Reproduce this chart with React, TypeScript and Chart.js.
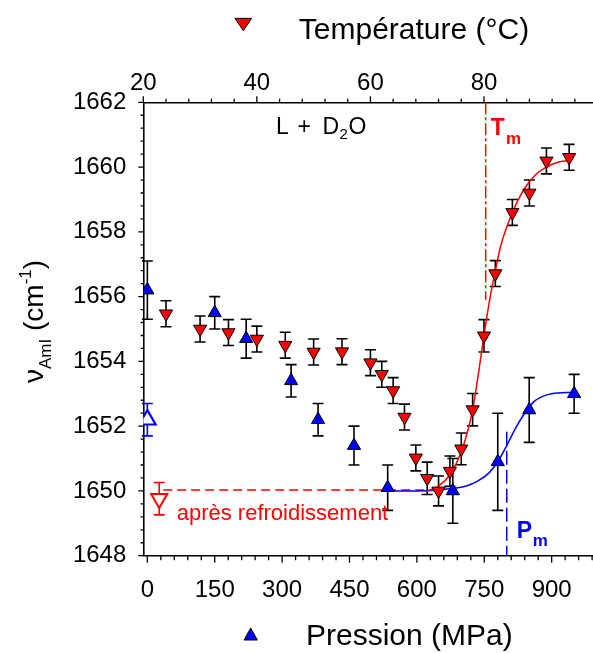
import React, { useEffect, useRef } from 'react';
import { Chart, registerables } from 'chart.js';

Chart.register(...registerables);

const FONT = '"Liberation Sans", Arial, Helvetica, sans-serif';
const RED = '#ff0000';
const BLUE = '#0000ff';

// ---- Axis ticks ----
const PRESSURE_TICKS = [0, 150, 300, 450, 600, 750, 900];
const TEMP_TICKS = [20, 40, 60, 80];
const NU_TICKS = [1648, 1650, 1652, 1654, 1656, 1658, 1660, 1662];

// ---- Pressure series (blue, up triangles) ----
const PRESSURE_MPA = [0, 150, 220, 320, 380, 460, 535, 680, 780, 850, 950];
const PRESSURE_NU = [1656.2, 1655.5, 1654.7, 1653.4, 1652.2, 1651.4, 1650.1, 1650.0, 1650.9, 1652.5, 1653.0];
const PRESSURE_ERR = [0.9, 0.5, 0.6, 0.5, 0.5, 0.6, 0.7, 1.0, 1.5, 1.0, 0.6];

// after decompression (open blue)
const PRESSURE_AFTER_MPA = [0];
const PRESSURE_AFTER_NU = [1652.2];
const PRESSURE_AFTER_ERR = [0.5];

// ---- Temperature series (red, down triangles) ----
const TEMP_C = [24, 30, 35, 40, 45, 50, 55, 60, 62, 64, 66, 68, 70, 72, 74, 76, 78, 80, 82, 85, 88, 91, 95];
const TEMP_NU = [1655.47, 1655.0, 1654.89, 1654.69, 1654.5, 1654.29, 1654.3, 1653.96, 1653.6, 1653.1, 1652.28, 1651.02, 1650.39, 1650.0, 1650.61, 1651.3, 1652.51, 1654.79, 1656.71, 1658.6, 1659.2, 1660.19, 1660.3];
const TEMP_ERR = [0.4, 0.4, 0.4, 0.4, 0.4, 0.4, 0.4, 0.4, 0.4, 0.4, 0.4, 0.4, 0.5, 0.46, 0.47, 0.49, 0.5, 0.5, 0.4, 0.4, 0.4, 0.4, 0.4];

// after cooling (open red)
const COOLED_C = [22.8];
const COOLED_NU = [1649.76];
const COOLED_ERR = [0.5];

// ---- Fit curves ----
const TFIT_C = [70, 72, 74, 76, 78, 79, 80, 81, 82, 83, 85, 87, 89, 91, 93, 95];
const TFIT_NU = [1650.0, 1650.15, 1650.5, 1651.2, 1652.5, 1653.6, 1654.8, 1655.9, 1656.8, 1657.6, 1658.6, 1659.3, 1659.75, 1660.0, 1660.15, 1660.2];
const PFIT_MPA = [535, 600, 650, 680, 710, 735, 760, 780, 800, 820, 840, 860, 880, 900, 950];
const PFIT_NU = [1650.0, 1650.0, 1650.03, 1650.08, 1650.15, 1650.3, 1650.55, 1650.9, 1651.4, 1651.95, 1652.4, 1652.75, 1652.92, 1653.0, 1653.05];

// reference lines
const COOLED_LINE_C = [23.5, 70];
const COOLED_LINE_NU = [1650.03, 1650.03];
const TM_C = [80.3, 80.3];
const TM_NU = [1662, 1655.9];
const PM_MPA = [800, 800];
const PM_NU = [1651.83, 1648];

const pts = (xs: number[], ys: number[]) => xs.map((x, i) => ({ x, y: ys[i] }));

function drawRich(ctx: CanvasRenderingContext2D, x: number, y: number, parts: any[], color: string) {
  let cx = x;
  ctx.fillStyle = color;
  ctx.textAlign = 'left';
  ctx.textBaseline = 'alphabetic';
  for (const p of parts) {
    ctx.font = `${p.bold ? 'bold ' : ''}${p.size}px ${FONT}`;
    const px = p.x !== undefined ? p.x : cx;
    ctx.fillText(p.t, px, y + (p.dy || 0));
    cx = px + ctx.measureText(p.t).width;
  }
}

function triangle(ctx: CanvasRenderingContext2D, cx: number, cy: number, w: number, h: number, down: boolean, fill: string) {
  ctx.beginPath();
  if (down) {
    ctx.moveTo(cx - w / 2, cy - h / 2);
    ctx.lineTo(cx + w / 2, cy - h / 2);
    ctx.lineTo(cx, cy + h / 2);
  } else {
    ctx.moveTo(cx - w / 2, cy + h / 2);
    ctx.lineTo(cx + w / 2, cy + h / 2);
    ctx.lineTo(cx, cy - h / 2);
  }
  ctx.closePath();
  ctx.fillStyle = fill;
  ctx.fill();
  ctx.strokeStyle = '#000';
  ctx.lineWidth = 1;
  ctx.stroke();
}

const errorBarPlugin = {
  id: 'errorBars',
  beforeDatasetsDraw(chart: any) {
    const ctx = chart.ctx;
    chart.data.datasets.forEach((ds: any, i: number) => {
      if (!ds.errors) return;
      const meta = chart.getDatasetMeta(i);
      const ys = chart.scales.y;
      ctx.save();
      ctx.strokeStyle = ds.errorColor;
      ctx.lineWidth = 1.6;
      meta.data.forEach((el: any, j: number) => {
        const raw = ds.data[j];
        const e = ds.errors[j];
        const top = ys.getPixelForValue(raw.y + e);
        const bot = ys.getPixelForValue(raw.y - e);
        const x = el.x;
        const cw = 5.5;
        ctx.beginPath();
        ctx.moveTo(x, top);
        ctx.lineTo(x, bot);
        ctx.moveTo(x - cw, top);
        ctx.lineTo(x + cw, top);
        ctx.moveTo(x - cw, bot);
        ctx.lineTo(x + cw, bot);
        ctx.stroke();
      });
      ctx.restore();
    });
  },
};

function tickMarks(ctx: CanvasRenderingContext2D, scale: any, from: number, step: number, count: number, every: number, majorLen: number, minorLen: number, side: string) {
  ctx.beginPath();
  for (let i = 0; i <= count; i++) {
    const v = from + i * step;
    const len = i % every === 0 ? majorLen : minorLen;
    const p = scale.getPixelForValue(v);
    if (side === 'bottom') {
      ctx.moveTo(p, scale.top);
      ctx.lineTo(p, scale.top + len);
    } else if (side === 'top') {
      ctx.moveTo(p, scale.bottom);
      ctx.lineTo(p, scale.bottom - len);
    } else {
      ctx.moveTo(scale.right, p);
      ctx.lineTo(scale.right - len, p);
    }
  }
  ctx.stroke();
}

const decorPlugin = {
  id: 'decor',
  afterDraw(chart: any) {
    const ctx: CanvasRenderingContext2D = chart.ctx;
    const { x, x2, y } = chart.scales;
    ctx.save();
    ctx.strokeStyle = '#000';
    ctx.lineWidth = 1.3;
    tickMarks(ctx, x, 0, 30, 33, 5, 7, 4.5, 'bottom');
    tickMarks(ctx, x2, 20, 4, 19, 5, 6, 3.5, 'top');
    tickMarks(ctx, y, 1648, 0.4, 35, 5, 5, 2.7, 'left');

    // axis titles
    triangle(ctx, 243.3, 24.5, 16.7, 12.3, true, RED);
    drawRich(ctx, 298.8, 39, [{ t: 'Température (°C)', size: 30 }], '#000');
    triangle(ctx, 250.7, 634, 13.3, 12, false, BLUE);
    drawRich(ctx, 306, 645, [{ t: 'Pression (MPa)', size: 30 }], '#000');

    ctx.save();
    ctx.translate(43, 383);
    ctx.rotate(-Math.PI / 2);
    drawRich(ctx, 0, 0, [
      { t: 'ν', size: 28 },
      { t: 'AmI', size: 17, dy: 8 },
      { t: ' (cm', size: 28 },
      { t: '-1', size: 17, dy: -12 },
      { t: ')', size: 28 },
    ], '#000');
    ctx.restore();

    // annotations
    drawRich(ctx, 0, 134.3, [
      { t: 'L', size: 23, x: 276 },
      { t: '+', size: 23, x: 297.5 },
      { t: 'D', size: 23, x: 322.5 },
      { t: '2', size: 15, x: 339.5, dy: 4.5 },
      { t: 'O', size: 23, x: 348.5 },
    ], '#000');
    drawRich(ctx, 0, 135, [
      { t: 'T', size: 23, bold: true, x: 490.7 },
      { t: 'm', size: 17, bold: true, x: 506, dy: 9 },
    ], RED);
    drawRich(ctx, 0, 538.3, [
      { t: 'P', size: 23, bold: true, x: 516.7 },
      { t: 'm', size: 17, bold: true, x: 532.7, dy: 7.2 },
    ], BLUE);
    drawRich(ctx, 176.7, 520, [{ t: 'après refroidissement', size: 22 }], RED);
    ctx.restore();
  },
};

export default function App() {
  const ref = useRef<HTMLCanvasElement | null>(null);

  useEffect(() => {
    document.body.style.margin = '0';
    const canvas = ref.current;
    if (!canvas) return;

    const tickFont = { family: FONT, size: 24 };
    const fmt = (v: any) => String(v);
    const baseAxis = {
      type: 'linear' as const,
      grid: { display: false, drawTicks: false },
      border: { display: true, color: '#000', width: 1.6 },
    };

    const chart = new Chart(canvas, {
      type: 'scatter',
      data: {
        datasets: [
          {
            label: 'Température',
            xAxisID: 'x2',
            yAxisID: 'y',
            data: pts(TEMP_C, TEMP_NU),
            errors: TEMP_ERR,
            errorColor: '#000',
            pointStyle: 'triangle',
            rotation: 180,
            radius: 7.6,
            backgroundColor: RED,
            borderColor: '#000',
            borderWidth: 1,
          } as any,
          {
            label: 'Pression',
            xAxisID: 'x',
            yAxisID: 'y',
            data: pts(PRESSURE_MPA, PRESSURE_NU),
            errors: PRESSURE_ERR,
            errorColor: '#000',
            pointStyle: 'triangle',
            radius: 7.6,
            backgroundColor: BLUE,
            borderColor: '#000',
            borderWidth: 1,
          } as any,
          {
            label: 'après refroidissement',
            xAxisID: 'x2',
            yAxisID: 'y',
            data: pts(COOLED_C, COOLED_NU),
            errors: COOLED_ERR,
            errorColor: RED,
            pointStyle: 'triangle',
            rotation: 180,
            radius: 9.3,
            backgroundColor: '#fff',
            borderColor: RED,
            borderWidth: 2,
          } as any,
          {
            label: 'après décompression',
            xAxisID: 'x',
            yAxisID: 'y',
            data: pts(PRESSURE_AFTER_MPA, PRESSURE_AFTER_NU),
            errors: PRESSURE_AFTER_ERR,
            errorColor: BLUE,
            pointStyle: 'triangle',
            radius: 9.6,
            backgroundColor: '#fff',
            borderColor: BLUE,
            borderWidth: 2.2,
          } as any,
          {
            type: 'line',
            label: 'fit T',
            xAxisID: 'x2',
            yAxisID: 'y',
            data: pts(TFIT_C, TFIT_NU),
            borderColor: RED,
            borderWidth: 1.5,
            pointRadius: 0,
            cubicInterpolationMode: 'monotone',
            fill: false,
          } as any,
          {
            type: 'line',
            label: 'fit P',
            xAxisID: 'x',
            yAxisID: 'y',
            data: pts(PFIT_MPA, PFIT_NU),
            borderColor: BLUE,
            borderWidth: 1.5,
            pointRadius: 0,
            cubicInterpolationMode: 'monotone',
            fill: false,
          } as any,
          {
            type: 'line',
            label: 'cooled level',
            xAxisID: 'x2',
            yAxisID: 'y',
            data: pts(COOLED_LINE_C, COOLED_LINE_NU),
            borderColor: RED,
            borderWidth: 1.5,
            borderDash: [9, 5],
            pointRadius: 0,
            fill: false,
          } as any,
          {
            type: 'line',
            label: 'Tm',
            xAxisID: 'x2',
            yAxisID: 'y',
            data: pts(TM_C, TM_NU),
            borderColor: RED,
            borderWidth: 1.5,
            borderDash: [12, 3, 3, 3],
            pointRadius: 0,
            fill: false,
          } as any,
          {
            type: 'line',
            label: 'Pm',
            xAxisID: 'x',
            yAxisID: 'y',
            data: pts(PM_MPA, PM_NU),
            borderColor: BLUE,
            borderWidth: 1.5,
            borderDash: [14, 5],
            pointRadius: 0,
            fill: false,
          } as any,
        ],
      },
      options: {
        animation: false,
        responsive: false,
        maintainAspectRatio: false,
        layout: { padding: 0, autoPadding: false },
        plugins: {
          legend: { display: false },
          tooltip: { enabled: false },
        },
        scales: {
          x: {
            ...baseAxis,
            position: 'bottom',
            min: -9,
            max: 992,
            afterFit: (s: any) => { s.height = 97.3; },
            afterBuildTicks: (s: any) => { s.ticks = PRESSURE_TICKS.map((v) => ({ value: v })); },
            ticks: { font: tickFont, color: '#000', padding: 20, maxRotation: 0, autoSkip: false, callback: fmt },
          },
          x2: {
            ...baseAxis,
            position: 'top',
            min: 20,
            max: 99.2,
            afterFit: (s: any) => { s.height = 102.3; },
            afterBuildTicks: (s: any) => { s.ticks = TEMP_TICKS.map((v) => ({ value: v })); },
            ticks: { font: tickFont, color: '#000', padding: 5, maxRotation: 0, autoSkip: false, callback: fmt },
          },
          y: {
            ...baseAxis,
            position: 'left',
            min: 1648,
            max: 1662,
            afterFit: (s: any) => { s.width = 143.3; },
            afterBuildTicks: (s: any) => { s.ticks = NU_TICKS.map((v) => ({ value: v })); },
            ticks: { font: tickFont, color: '#000', padding: 17, autoSkip: false, callback: fmt },
          },
        } as any,
      },
      plugins: [errorBarPlugin, decorPlugin],
    } as any);

    return () => chart.destroy();
  }, []);

  return (
    <div style={{ width: 593, height: 653, background: '#fff' }}>
      <canvas ref={ref} width={593} height={653} style={{ display: 'block' }} />
    </div>
  );
}
